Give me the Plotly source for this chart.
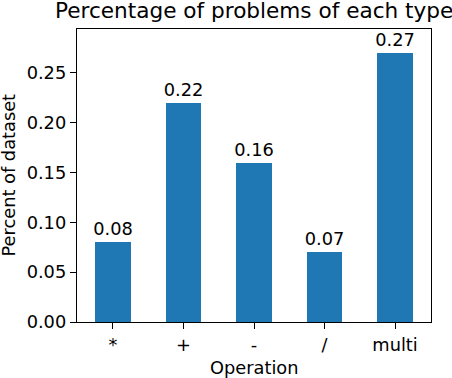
import plotly.graph_objects as go

categories = ["*", "+", "-", "/", "multi"]
values = [0.08, 0.22, 0.16, 0.07, 0.27]
bar_labels = ["0.08", "0.22", "0.16", "0.07", "0.27"]
y_ticks = [0.0, 0.05, 0.10, 0.15, 0.20, 0.25]
y_tick_text = ["0.00", "0.05", "0.10", "0.15", "0.20", "0.25"]

FONT = "DejaVu Sans"
fig = go.Figure()
fig.add_trace(go.Bar(
    x=list(range(len(categories))), y=values, width=0.5,
    marker=dict(color="#1f77b4", line=dict(width=0)),
    text=bar_labels, textposition="outside", cliponaxis=False, constraintext="none",
    textfont=dict(family=FONT, size=17.8, color="black"),
))
axis_common = dict(showline=True, linecolor="black", linewidth=1.4, mirror=True,
                   ticks="outside", ticklen=6, tickwidth=1.4, tickcolor="black",
                   showgrid=False, zeroline=False,
                   tickfont=dict(family=FONT, size=17.8, color="black"))
fig.update_layout(
    width=452, height=378,
    margin=dict(l=77, r=21, t=29, b=56.3, autoexpand=False),
    paper_bgcolor="white", plot_bgcolor="white",
    showlegend=False, bargap=0,
    xaxis=dict(range=[-0.51, 4.51], tickvals=list(range(len(categories))),
               ticktext=categories, **axis_common),
    yaxis=dict(range=[0, 0.294], tickvals=y_ticks, ticktext=y_tick_text, **axis_common),
    annotations=[
        dict(text="Percentage of problems of each type", xref="paper", yref="paper",
             x=0.5, y=1, yanchor="bottom", xanchor="center", yshift=4, showarrow=False,
             font=dict(family=FONT, size=21.6, color="black")),
        dict(text="Operation", xref="paper", yref="paper", x=0.5, y=0,
             yanchor="middle", xanchor="center", yshift=-45, showarrow=False,
             font=dict(family=FONT, size=17.8, color="black")),
        dict(text="Percent of dataset", xref="paper", yref="paper", x=0, y=0.5,
             xanchor="center", yanchor="middle", xshift=-69, textangle=-90, showarrow=False,
             font=dict(family=FONT, size=17.8, color="black")),
    ],
)
fig.write_html("out.html", config={"displayModeBar": False},
               post_script="document.body.style.margin='0';document.body.style.padding='0';")
